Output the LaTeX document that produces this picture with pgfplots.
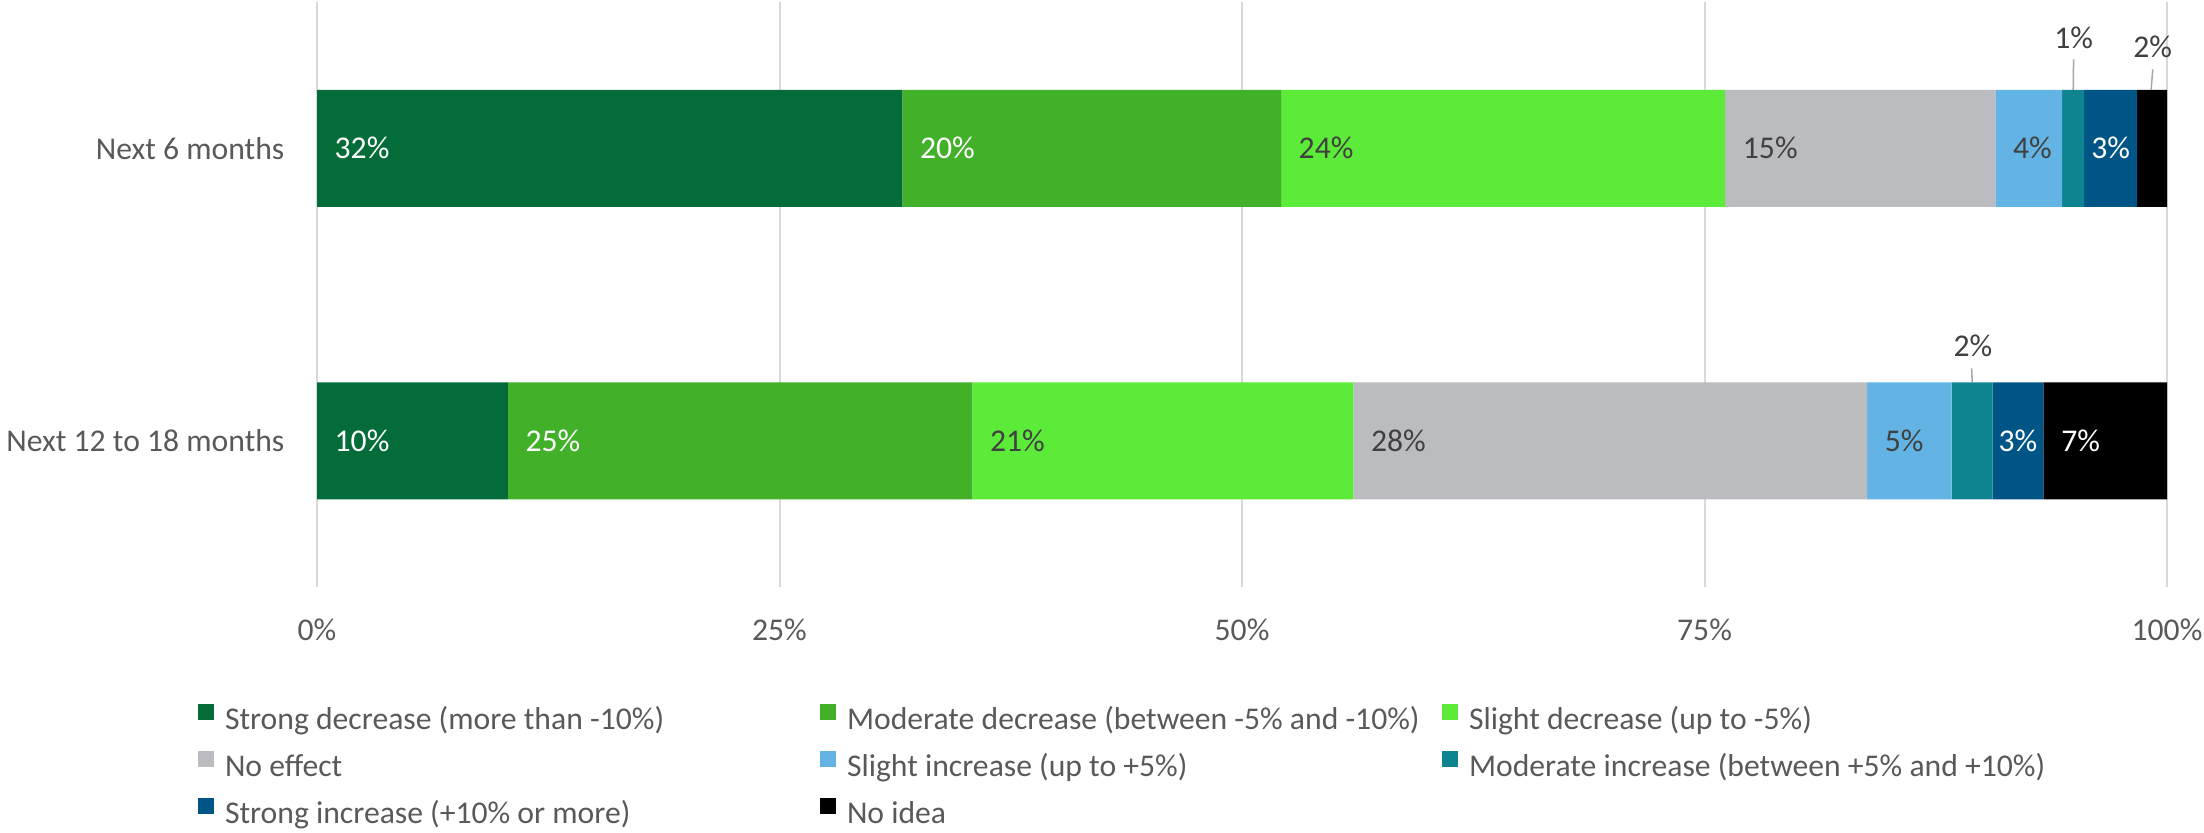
\documentclass[border=0pt]{standalone}
\usepackage{fontspec}
\setmainfont{Carlito}
\usepackage{pgfplots}
\pgfplotsset{compat=1.18}
\definecolor{c1}{HTML}{046C39}
\definecolor{c2}{HTML}{43B02A}
\definecolor{c3}{HTML}{5DEB3A}
\definecolor{c4}{HTML}{BBBCBF}
\definecolor{c5}{HTML}{63B4E4}
\definecolor{c6}{HTML}{0E8490}
\definecolor{c7}{HTML}{005587}
\definecolor{c8}{HTML}{000000}
\definecolor{txt}{HTML}{595959}
\definecolor{lbl}{HTML}{404040}
\definecolor{grd}{HTML}{D9D9D9}
\definecolor{lead}{HTML}{A6A6A6}
\newcommand{\LE}[1]{\makebox[178.5pt][l]{\rule[-2.7pt]{0pt}{9.9pt}#1}}
\begin{document}
\fontsize{9.5}{11.4}\selectfont
\begin{tikzpicture}[font=\fontsize{9.5}{11.4}\selectfont]
\begin{axis}[
 at={(95.1pt,73.5pt)}, anchor=south west,
 scale only axis, width=555pt, height=175.5pt,
 xbar stacked, bar width=35.1pt,
 xmin=0, xmax=100, ymin=-0.5, ymax=1.5,
 xtick={0,25,50,75,100}, xticklabels={0\%,25\%,50\%,75\%,100\%},
 ytick={0,1}, yticklabels={Next 12 to 18 months,Next 6 months},
 xmajorgrids, major grid style={grd, line width=0.6pt},
 axis line style={draw=none}, major tick length=0pt,
 tick label style={text=txt, inner sep=0pt},
 xticklabel style={anchor=north, yshift=-9.3pt},
 yticklabel style={anchor=east, xshift=-9.6pt},
 legend columns=3, legend cell align=left,
 legend style={at={(-0.06432,-0.2000)}, anchor=north west, draw=none, fill=none,
   inner sep=0pt, outer sep=0pt, row sep=5.0pt, column sep=0pt,
   nodes={inner sep=0pt, text=txt},
   /tikz/every odd column/.append style={column sep=3.3pt}},
 legend image code/.code={\fill[#1] (0pt,0pt) rectangle (4.8pt,4.8pt);},
 clip=false,
]
\addplot[fill=c1, draw=none] coordinates {(31.64,1) (10.32,0)};
\addlegendentry{\LE{Strong decrease (more than -10\%)}}
\addplot[fill=c2, draw=none] coordinates {(20.47,1) (25.11,0)};
\addlegendentry{\LE{Moderate decrease (between -5\% and -10\%)}}
\addplot[fill=c3, draw=none] coordinates {(24.01,1) (20.59,0)};
\addlegendentry{\LE{Slight decrease (up to -5\%)}}
\addplot[fill=c4, draw=none] coordinates {(14.60,1) (27.77,0)};
\addlegendentry{\LE{No effect}}
\addplot[fill=c5, draw=none] coordinates {(3.61,1) (4.57,0)};
\addlegendentry{\LE{Slight increase (up to +5\%)}}
\addplot[fill=c6, draw=none] coordinates {(1.19,1) (2.22,0)};
\addlegendentry{\LE{Moderate increase (between +5\% and +10\%)}}
\addplot[fill=c7, draw=none] coordinates {(2.87,1) (2.73,0)};
\addlegendentry{\LE{Strong increase (+10\% or more)}}
\addplot[fill=c8, draw=none] coordinates {(1.61,1) (6.69,0)};
\addlegendentry{\LE{No idea}}
% anchor points for data labels, bar 1
\coordinate (a1) at (axis cs:0,1);
\coordinate (a2) at (axis cs:31.64,1);
\coordinate (a3) at (axis cs:52.11,1);
\coordinate (a4) at (axis cs:76.12,1);
\coordinate (a5) at (axis cs:90.72,1);
\coordinate (a7) at (axis cs:96.955,1);
\coordinate (a6) at (axis cs:94.95,1.3786);
\coordinate (a6t) at (axis cs:94.95,1.3041);
\coordinate (a6b) at (axis cs:94.93,1.2);
\coordinate (a8) at (axis cs:99.23,1.3451);
\coordinate (a8t) at (axis cs:99.23,1.2699);
\coordinate (a8b) at (axis cs:99.14,1.2);
% bar 2
\coordinate (b1) at (axis cs:0,0);
\coordinate (b2) at (axis cs:10.32,0);
\coordinate (b3) at (axis cs:35.43,0);
\coordinate (b4) at (axis cs:56.02,0);
\coordinate (b5) at (axis cs:83.79,0);
\coordinate (b7) at (axis cs:91.945,0);
\coordinate (b8) at (axis cs:93.31,0);
\coordinate (b6) at (axis cs:89.51,0.3239);
\coordinate (b6t) at (axis cs:89.44,0.2477);
\coordinate (b6b) at (axis cs:89.47,0.2);
\end{axis}
\begin{scope}[every node/.style={inner sep=0pt}]
\node[anchor=west, xshift=5.1pt, text=white] at (a1) {32\%};
\node[anchor=west, xshift=5.1pt, text=white] at (a2) {20\%};
\node[anchor=west, xshift=5.1pt, text=lbl] at (a3) {24\%};
\node[anchor=west, xshift=5.1pt, text=lbl] at (a4) {15\%};
\node[anchor=west, xshift=5.1pt, text=lbl] at (a5) {4\%};
\node[anchor=center, text=white] at (a7) {3\%};
\node[anchor=center, text=lbl] at (a6) {1\%};
\draw[lead, line width=0.45pt] (a6t) -- (a6b);
\node[anchor=center, text=lbl] at (a8) {2\%};
\draw[lead, line width=0.45pt] (a8t) -- (a8b);
\node[anchor=west, xshift=5.1pt, text=white] at (b1) {10\%};
\node[anchor=west, xshift=5.1pt, text=white] at (b2) {25\%};
\node[anchor=west, xshift=5.1pt, text=lbl] at (b3) {21\%};
\node[anchor=west, xshift=5.1pt, text=lbl] at (b4) {28\%};
\node[anchor=west, xshift=5.1pt, text=lbl] at (b5) {5\%};
\node[anchor=center, text=white] at (b7) {3\%};
\node[anchor=west, xshift=5.2pt, text=white] at (b8) {7\%};
\node[anchor=center, text=lbl] at (b6) {2\%};
\draw[lead, line width=0.45pt] (b6t) -- (b6b);
\end{scope}
\pgfresetboundingbox
\path (0,0) rectangle (661.2pt,249.6pt);
\end{tikzpicture}
\end{document}
